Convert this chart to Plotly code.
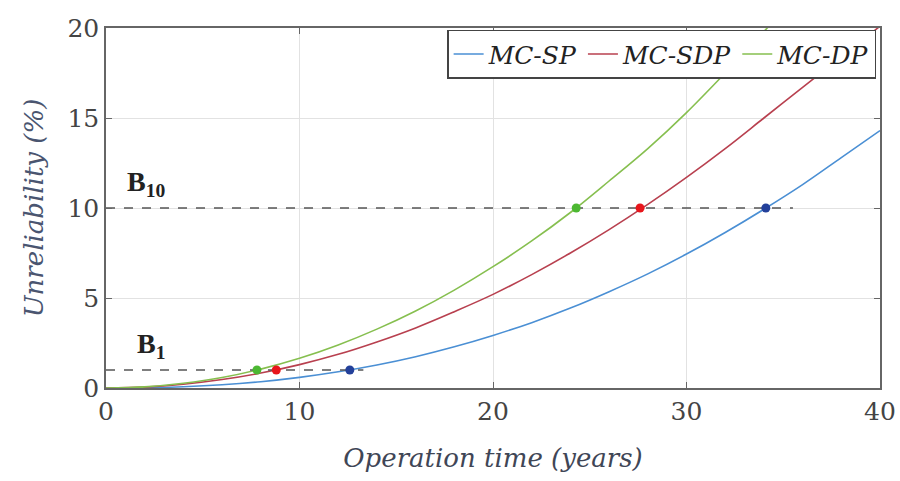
import plotly.graph_objects as go

# Operation time (years)
t = [0, 2, 4, 6, 8, 10, 12, 14, 16, 18, 20, 22, 24, 26, 28, 30, 32, 34, 36, 38, 40]
# Unreliability (%)
mc_sp = [0, 0.01, 0.07, 0.18, 0.35, 0.59, 0.90, 1.28, 1.74, 2.29, 2.92, 3.63, 4.44, 5.35,
         6.34, 7.44, 8.64, 9.93, 11.3, 12.8, 14.3]
mc_sdp = [0, 0.05, 0.21, 0.47, 0.83, 1.30, 1.87, 2.56, 3.34, 4.24, 5.20, 6.30, 7.50, 8.80,
          10.2, 11.7, 13.3, 15.0, 16.7, 18.4, 20.1]
t_dp = [0, 2, 4, 6, 8, 10, 12, 14, 16, 18, 20, 22, 24, 26, 28, 30, 32, 34, 36]
mc_dp = [0, 0.06, 0.26, 0.58, 1.05, 1.65, 2.39, 3.27, 4.28, 5.44, 6.74, 8.17, 9.75, 11.5,
         13.3, 15.3, 17.5, 19.8, 22.2]

# B1 / B10 life points
b1_t = [7.8, 8.8, 12.6]
b10_t = [24.3, 27.6, 34.1]
pt_colors = ["#4cb832", "#e8151b", "#23409a"]
b1_line_x = [0, 13.3]
b10_line_x = [0, 35.5]

names = ["MC-SP", "MC-SDP", "MC-DP"]
line_colors = ["#4a8fd4", "#b8404f", "#86bf4f"]

fig = go.Figure()
for x, y, nm, c in [(t, mc_sp, names[0], line_colors[0]),
                    (t, mc_sdp, names[1], line_colors[1]),
                    (t_dp, mc_dp, names[2], line_colors[2])]:
    fig.add_trace(go.Scatter(x=x, y=y, mode="lines", name="<i>" + nm + "</i>",
                             line=dict(color=c, width=1.6, shape="spline")))

fig.add_trace(go.Scatter(x=b1_line_x, y=[1, 1], mode="lines", showlegend=False,
                         line=dict(color="#555", width=1.5, dash="dash")))
fig.add_trace(go.Scatter(x=b10_line_x, y=[10, 10], mode="lines", showlegend=False,
                         line=dict(color="#555", width=1.5, dash="dash")))
fig.add_trace(go.Scatter(x=b1_t, y=[1, 1, 1], mode="markers", showlegend=False,
                         marker=dict(color=pt_colors, size=9)))
fig.add_trace(go.Scatter(x=b10_t, y=[10, 10, 10], mode="markers", showlegend=False,
                         marker=dict(color=pt_colors, size=9)))

serif_b = "Liberation Serif"
serif = "DejaVu Serif"
fig.add_annotation(x=1.0, y=10.3, xref="x", yref="y", text="<b>B<sub>10</sub></b>", showarrow=False,
                   xanchor="left", yanchor="bottom", font=dict(family=serif_b, size=28, color="#222"))
fig.add_annotation(x=1.5, y=1.3, xref="x", yref="y", text="<b>B<sub>1</sub></b>", showarrow=False,
                   xanchor="left", yanchor="bottom", font=dict(family=serif_b, size=28, color="#222"))

axis_common = dict(showgrid=True, gridcolor="#e2e2e2", gridwidth=1, showline=True, linecolor="#666",
                   linewidth=1.5, mirror="ticks", ticks="inside", ticklen=6, tickcolor="#666",
                   zeroline=False, automargin=False,
                   tickfont=dict(family=serif, size=25, color="#444"))
fig.update_xaxes(range=[0, 40], dtick=10, **axis_common,
                 title=dict(text="<i>Operation time (years)</i>",
                            font=dict(family=serif, size=26, color="#3f4656"), standoff=24))
fig.update_yaxes(range=[0, 20], dtick=5, **axis_common,
                 title=dict(text="<i>Unreliability (%)</i>",
                            font=dict(family=serif, size=26, color="#4a5570"), standoff=16))

fig.update_layout(
    template="none",
    width=900, height=481,
    margin=dict(l=106, r=20, t=28, b=93),
    font=dict(family=serif),
    plot_bgcolor="white", paper_bgcolor="white",
    legend=dict(orientation="h", x=0.995, y=0.995, xanchor="right", yanchor="top",
                bgcolor="white", bordercolor="#444", borderwidth=1.5,
                font=dict(family=serif, size=25, color="#222"), itemwidth=30,
                tracegroupgap=0),
)

fig.write_html("out.html")
